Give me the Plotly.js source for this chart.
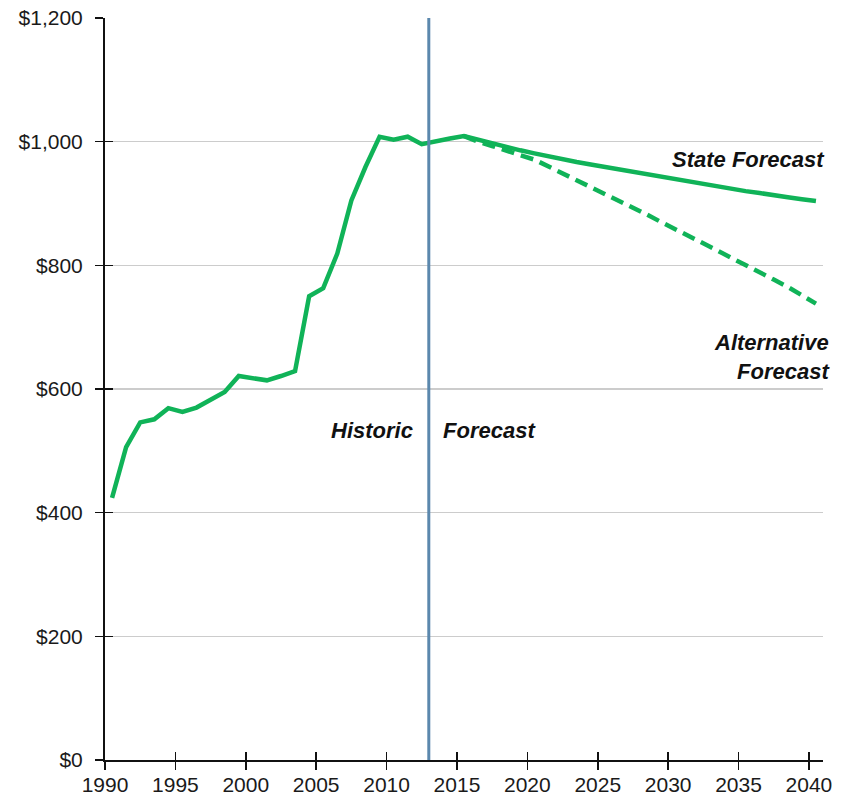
<!DOCTYPE html>
<html>
<head>
<meta charset="utf-8">
<script src="https://cdn.plot.ly/plotly-3.0.1.min.js"></script>
<style>html,body{margin:0;padding:0;background:#fff;}#chart{width:843px;height:800px;}</style>
</head>
<body>
<div id="chart"></div>
<script>
// Fiscal-year values (plotted at mid-year)
const historicYears = [1990,1991,1992,1993,1994,1995,1996,1997,1998,1999,2000,2001,2002,2003,2004,2005,2006,2007,2008,2009,2010,2011,2012];
const historicValues = [424,506,546,551,569,563,570,582,595,621,617,614,621,629,750,763,819,905,959,1008,1003,1008,996];

const stateYears = [2013,2014,2015,2016,2017,2018,2019,2020,2021,2022,2023,2024,2025,2026,2027,2028,2029,2030,2031,2032,2033,2034,2035,2036,2037,2038,2039,2040];
const stateValues = [1001,1005,1009,1003,997,991,986,981,976,972,967,963,959,955,951,947,943,939,935,931,927,924,920,917,913,910,907,904];

const altYears = [2015,2016,2017,2018,2019,2020,2021,2022,2023,2024,2025,2026,2027,2028,2029,2030,2031,2032,2033,2034,2035,2036,2037,2038,2039,2040];
const altValues = [1009,1000,993,985,978,971,960,949,938,927,916,904,893,882,870,859,847,836,824,812,801,789,777,765,752,738];

const tickYears = [1990,1995,2000,2005,2010,2015,2020,2025,2030,2035,2040];
const tickLabels = ['1990','1995','2000','2005','2010','2015','2020','2025','2030','2035','2040'];
const yTicks = [0,200,400,600,800,1000,1200];
const yTickLabels = ['$0','$200','$400','$600','$800','$1,000','$1,200'];
const forecastStartYear = 2013;

const midYear = 0.5;
const green = '#10b358';
const tickFont = {family:'"Liberation Sans", Arial, sans-serif', size:21, color:'#1a1a1a'};
const noteFont = {family:'"Liberation Sans", Arial, sans-serif', size:22, color:'#111'};

const traces = [
  {
    x: historicYears.concat(stateYears).map(y => y + midYear),
    y: historicValues.concat(stateValues),
    mode: 'lines', type: 'scatter',
    line: {color: green, width: 4.5},
    hoverinfo: 'x+y', showlegend: false
  },
  {
    x: altYears.map(y => y + midYear),
    y: altValues,
    mode: 'lines', type: 'scatter',
    line: {color: green, width: 4.5, dash: '13px,7px'},
    hoverinfo: 'x+y', showlegend: false
  },
  {x: [], y: [], xaxis: 'x2', yaxis: 'y2', type: 'scatter', showlegend: false, hoverinfo: 'skip'}
];

const xRange = [1990, 2041];
const yRange = [0, 1200];

const layout = {
  width: 843, height: 800,
  margin: {l: 105, r: 20, t: 18, b: 40},
  paper_bgcolor: '#fff', plot_bgcolor: '#fff',
  showlegend: false,
  xaxis: {
    range: xRange, tickmode: 'array', tickvals: tickYears, ticktext: tickLabels,
    ticks: 'outside', ticklen: 8, tickwidth: 1.5, tickcolor: '#111',
    showline: true, linecolor: '#111', linewidth: 2,
    showgrid: false, zeroline: false, tickfont: tickFont, ticklabelstandoff: -3
  },
  yaxis: {
    range: yRange, tickmode: 'array', tickvals: yTicks, ticktext: yTickLabels,
    ticks: 'outside', ticklen: 8, tickwidth: 1.5, tickcolor: '#111',
    showline: true, linecolor: '#111', linewidth: 2,
    showgrid: true, gridcolor: '#cccccc', gridwidth: 1.5,
    zeroline: false, tickfont: tickFont, ticklabelstandoff: 8
  },
  xaxis2: {
    overlaying: 'x', anchor: 'y2', range: xRange, tickmode: 'array', tickvals: tickYears,
    ticks: 'inside', ticklen: 8, tickwidth: 1.5, tickcolor: '#111',
    showticklabels: false, showline: false, showgrid: false, zeroline: false
  },
  yaxis2: {
    overlaying: 'y', anchor: 'x2', range: yRange, tickmode: 'array', tickvals: yTicks,
    ticks: 'inside', ticklen: 8, tickwidth: 1.5, tickcolor: '#111',
    showticklabels: false, showline: false, showgrid: false, zeroline: false
  },
  shapes: [
    {type: 'line', xref: 'x', yref: 'y', x0: forecastStartYear, x1: forecastStartYear, y0: 0, y1: 1200,
     line: {color: '#5b88ad', width: 3}, layer: 'above'}
  ],
  annotations: [
    {x: forecastStartYear, y: 533, xref: 'x', yref: 'y', text: '<b><i>Historic</i></b>', showarrow: false,
     xanchor: 'right', xshift: -14, font: noteFont},
    {x: forecastStartYear, y: 533, xref: 'x', yref: 'y', text: '<b><i>Forecast</i></b>', showarrow: false,
     xanchor: 'left', xshift: 12, font: noteFont},
    {x: 2041, y: 971, xref: 'x', yref: 'y', text: '<b><i>State Forecast</i></b>', showarrow: false,
     xanchor: 'right', xshift: 4, font: noteFont},
    {x: 2041, y: 651, xref: 'x', yref: 'y', text: '<b><i>Alternative<br>Forecast</i></b>', showarrow: false,
     xanchor: 'right', align: 'right', xshift: 9, font: noteFont}
  ]
};

Plotly.newPlot('chart', traces, layout, {displayModeBar: false, staticPlot: true});
</script>
</body>
</html>
